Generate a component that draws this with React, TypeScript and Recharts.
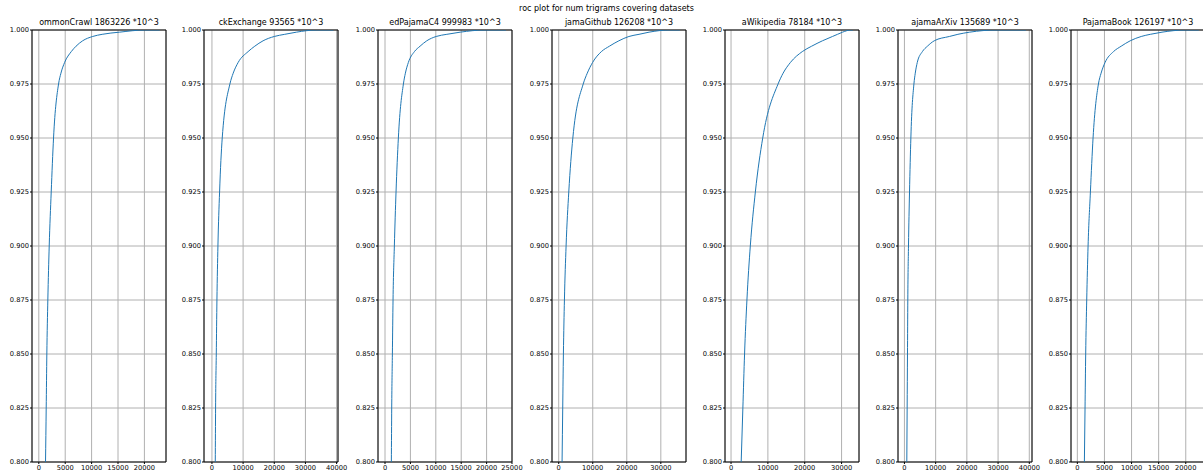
import React from "react";
import { LineChart, Line, XAxis, YAxis, CartesianGrid, ReferenceArea } from "recharts";

const SUPER_TITLE = "roc plot for num trigrams covering datasets";

const TITLES = [
  "ommonCrawl 1863226 *10^3",
  "ckExchange 93565 *10^3",
  "edPajamaC4 999983 *10^3",
  "jamaGithub 126208 *10^3",
  "aWikipedia 78184 *10^3",
  "ajamaArXiv 135689 *10^3",
  "PajamaBook 126197 *10^3",
];

// shared coverage levels (y values)
const Y_LEVELS = [0.8, 0.825, 0.85, 0.875, 0.9, 0.925, 0.95, 0.975, 0.98, 0.985, 0.99, 0.9925, 0.995, 0.997, 0.998, 0.999, 1.0, 1.0];

// number of trigrams (x values) reaching each coverage level, per dataset
const X_COMMONCRAWL = [1270, 1400, 1520, 1710, 1970, 2350, 2790, 3740, 4190, 4890, 6150, 7050, 8300, 10200, 12000, 15300, 20100, 22900];
const X_STACKEXCHANGE = [1070, 1170, 1390, 1600, 1920, 2450, 3300, 5760, 6820, 8420, 11600, 13750, 16400, 20000, 23350, 27100, 33500, 39000];
const X_C4 = [1250, 1320, 1450, 1580, 1840, 2170, 2630, 3620, 4010, 4600, 5790, 6900, 8220, 10070, 12170, 14800, 19700, 23800];
const X_GITHUB = [990, 1180, 1380, 1680, 2170, 2960, 4150, 7200, 8390, 9970, 12540, 14900, 17670, 20630, 23600, 26550, 32480, 35600];
const X_WIKIPEDIA = [2750, 3210, 3670, 4310, 5230, 6600, 8600, 12760, 14130, 16130, 19330, 21880, 24800, 27530, 28900, 30270, 32540, 33060];
const X_ARXIV = [760, 870, 980, 1080, 1300, 1630, 2060, 3040, 3470, 4120, 5750, 7370, 9540, 14400, 17130, 20900, 29600, 38900];
const X_BOOK = [1300, 1420, 1540, 1730, 1980, 2410, 2900, 3890, 4380, 5120, 6670, 8090, 9750, 11790, 13460, 15620, 19940, 22400];

const SERIES_X = [X_COMMONCRAWL, X_STACKEXCHANGE, X_C4, X_GITHUB, X_WIKIPEDIA, X_ARXIV, X_BOOK];

const X_DOMAINS: [number, number][] = [
  [-1290, 24090],
  [-2550, 40450],
  [-1380, 25000],
  [-1970, 37400],
  [-1640, 34730],
  [-2060, 40870],
  [-1170, 23550],
];

const X_TICKS = [
  [0, 5000, 10000, 15000, 20000],
  [0, 10000, 20000, 30000, 40000],
  [0, 5000, 10000, 15000, 20000, 25000],
  [0, 10000, 20000, 30000],
  [0, 10000, 20000, 30000],
  [0, 10000, 20000, 30000, 40000],
  [0, 5000, 10000, 15000, 20000],
];

const Y_TICKS = [0.8, 0.825, 0.85, 0.875, 0.9, 0.925, 0.95, 0.975, 1.0];

// layout
const PLOT_LEFTS = [32, 204, 378, 552, 725, 898, 1071];
const PLOT_W = 134;
const Y_AXIS_W = 45;
const RIGHT_M = 18;
const TOP = 30;
const X_AXIS_H = 14;
const H = 476;

const FONT = "DejaVu Sans";
const tickStyle = { fontSize: 6.7, fill: "#000", fontFamily: FONT };

function Panel({ idx }: { idx: number }) {
  const xs = SERIES_X[idx];
  const data = xs.map((x, i) => ({ x, y: Y_LEVELS[i] }));
  const [x0, x1] = X_DOMAINS[idx];
  const left = PLOT_LEFTS[idx] - Y_AXIS_W;
  return (
    <div style={{ position: "absolute", left, top: 0 }}>
      <LineChart
        width={Y_AXIS_W + PLOT_W + RIGHT_M}
        height={H}
        data={data}
        margin={{ top: TOP, right: RIGHT_M, left: 0, bottom: 0 }}
        style={{ overflow: "visible" }}
      >
        <CartesianGrid stroke="#b0b0b0" strokeWidth={1} />
        <XAxis
          dataKey="x"
          type="number"
          domain={[x0, x1]}
          ticks={X_TICKS[idx]}
          interval={0}
          allowDataOverflow
          height={X_AXIS_H}
          tickSize={2}
          tickMargin={1}
          axisLine={false}
          stroke="#000"
          tick={tickStyle}
        />
        <YAxis
          dataKey="y"
          type="number"
          domain={[0.8, 1.0]}
          ticks={Y_TICKS}
          interval={0}
          allowDataOverflow
          width={Y_AXIS_W}
          tickSize={2}
          tickMargin={1}
          axisLine={false}
          stroke="#000"
          tick={tickStyle}
          tickFormatter={(v: number) => v.toFixed(3)}
        />
        <Line
          type="monotone"
          dataKey="y"
          stroke="#1f77b4"
          strokeWidth={1}
          dot={false}
          isAnimationActive={false}
        />
        <ReferenceArea x1={x0} x2={x1} y1={0.8} y2={1.0} fill="none" stroke="#000" strokeWidth={1} fillOpacity={0} />
      </LineChart>
      <div
        style={{
          position: "absolute",
          left: Y_AXIS_W - 40,
          width: PLOT_W + 80,
          top: 18,
          height: 10,
          lineHeight: "10px",
          fontSize: 8,
          fontFamily: FONT,
          textAlign: "center",
          whiteSpace: "nowrap",
          color: "#000",
        }}
      >
        {TITLES[idx]}
      </div>
    </div>
  );
}

export default function App() {
  return (
    <div
      style={{
        position: "fixed",
        left: 0,
        top: 0,
        width: 1203,
        height: 476,
        background: "#fff",
        overflow: "hidden",
      }}
    >
      <div
        style={{
          position: "absolute",
          left: 0,
          width: 1213,
          top: 4,
          height: 10,
          lineHeight: "10px",
          fontSize: 8,
          fontFamily: FONT,
          textAlign: "center",
          color: "#000",
        }}
      >
        {SUPER_TITLE}
      </div>
      {TITLES.map((_, i) => (
        <Panel key={i} idx={i} />
      ))}
    </div>
  );
}
